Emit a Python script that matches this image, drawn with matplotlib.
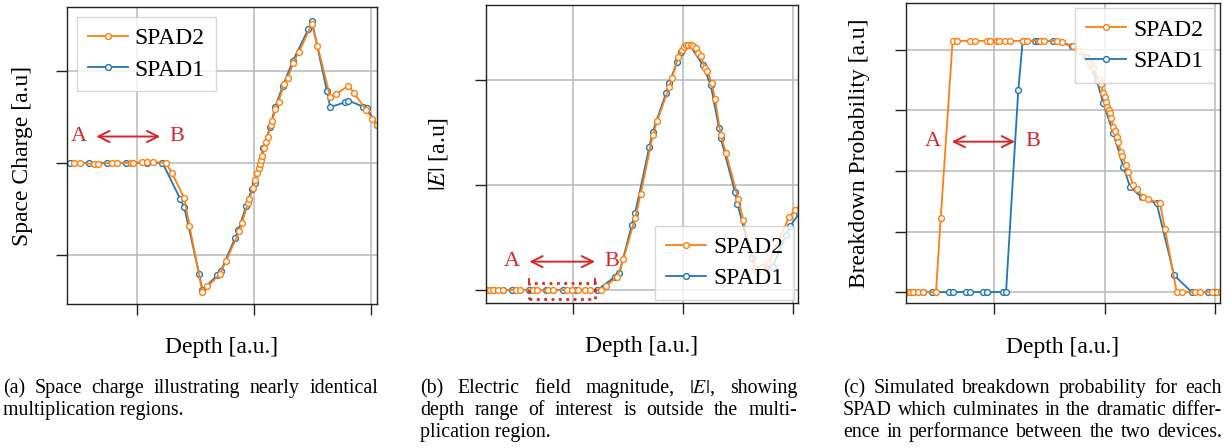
import matplotlib
matplotlib.use("Agg")
import matplotlib.pyplot as plt
from matplotlib.patches import Rectangle

plt.rcParams["font.family"] = ["Liberation Serif", "DejaVu Serif"]
plt.rcParams["mathtext.fontset"] = "stix"

# ---------------- data ----------------
# (a) space charge
sc_x_spad2 = [0.462, 0.513, 0.627, 0.669, 0.784, 0.826, 0.949, 0.963, 1.040, 1.083, 1.134, 1.245,
              1.297, 1.402, 1.447, 1.558, 1.601, 1.709, 1.758, 1.872, 1.895, 1.946, 1.960, 1.989,
              2.011, 2.028, 2.040, 2.051, 2.060, 2.071, 2.088, 2.103, 2.114, 2.145, 2.154, 2.182,
              2.208, 2.256, 2.285, 2.336, 2.385, 2.493, 2.541, 2.650, 2.698, 2.806, 2.855, 2.957,
              3.011, 3.049, 3.100]
sc_y_spad2 = [0.0, 0.0, -0.012, -0.012, 0.0, 0.0, 0.0, 0.0, 0.01, 0.01, 0.01, 0.0,
              -0.112, -0.385, -0.687, -1.414, -1.349, -1.210, -1.076, -0.749, -0.658, -0.440, -0.396, -0.276,
              -0.185, -0.112, -0.058, -0.011, 0.033, 0.076, 0.160, 0.232, 0.287, 0.414, 0.461, 0.586,
              0.668, 0.862, 0.924, 1.094, 1.214, 1.516, 1.279, 0.716, 0.749, 0.840, 0.760, 0.578,
              0.480, 0.414, 0.330]
sc_x_spad1 = [0.427, 0.592, 0.746, 0.906, 1.083, 1.216, 1.368, 1.402, 1.530, 1.558, 1.686, 1.718,
              1.838, 1.866, 1.932, 1.980, 2.003, 2.079, 2.137, 2.179, 2.245, 2.331, 2.464, 2.493,
              2.621, 2.650, 2.778, 2.806, 2.929, 2.963, 3.049, 3.100]
sc_y_spad1 = [0.0, 0.0, 0.0, 0.0, 0.0, 0.0, -0.393, -0.483, -1.214, -1.385, -1.225, -1.175,
              -0.815, -0.731, -0.469, -0.287, -0.215, 0.160, 0.396, 0.607, 0.840, 1.112, 1.461, 1.549,
              0.788, 0.607, 0.662, 0.679, 0.614, 0.597, 0.414, 0.330]

# (b) electric field magnitude
ef_x_spad2 = [0.215, 0.245, 0.275, 0.321, 0.366, 0.482, 0.518, 0.634, 0.675, 0.775, 0.821, 0.948,
              0.988, 1.048, 1.109, 1.155, 1.252, 1.300, 1.403, 1.457, 1.564, 1.615, 1.725, 1.766,
              1.875, 1.897, 1.957, 1.988, 2.009, 2.027, 2.048, 2.068, 2.091, 2.118, 2.139, 2.161,
              2.200, 2.221, 2.261, 2.291, 2.343, 2.391, 2.503, 2.548, 2.655, 2.715, 2.775, 2.966,
              3.018, 3.100]
ef_y_spad2 = [0.0] * 17 + [0.038, 0.127, 0.292, 0.683, 0.914, 1.476, 1.612,
                           1.936, 2.016, 2.216, 2.286, 2.314, 2.330, 2.333, 2.330, 2.320, 2.300, 2.254, 2.229,
                           2.111, 2.086, 1.968, 1.819, 1.476, 1.302, 0.864, 0.667, 0.207, 0.222, 0.254, 0.698,
                           0.762, 0.840]
ef_x_spad1 = [0.215, 0.275, 0.366, 0.443, 0.603, 0.755, 0.912, 1.027, 1.221, 1.382, 1.421, 1.534,
              1.564, 1.694, 1.725, 1.845, 1.875, 1.943, 1.977, 2.018, 2.064, 2.179, 2.252, 2.327,
              2.343, 2.473, 2.494, 2.625, 2.670, 2.745, 2.815, 2.936, 2.973, 3.057]
ef_y_spad1 = [0.0] * 9 + [0.127, 0.159, 0.619,
                          0.730, 1.365, 1.508, 1.873, 1.968, 2.168, 2.267, 2.320, 2.330, 2.143, 1.952, 1.540,
                          1.445, 0.930, 0.819, 0.302, 0.175, 0.213, 0.222, 0.524, 0.610, 0.730]

# (c) breakdown probability
bp_x_spad2 = [0.210, 0.240, 0.270, 0.315, 0.360, 0.475, 0.518, 0.626, 0.668, 0.783, 0.828, 0.939,
              0.964, 1.024, 1.048, 1.100, 1.145, 1.260, 1.301, 1.416, 1.452, 1.567, 1.613, 1.718,
              1.772, 1.869, 1.899, 1.953, 1.966, 1.989, 2.000, 2.014, 2.025, 2.038, 2.050, 2.059,
              2.080, 2.095, 2.110, 2.125, 2.147, 2.161, 2.192, 2.215, 2.261, 2.291, 2.351, 2.396,
              2.502, 2.548, 2.653, 2.704, 2.819, 2.864, 2.970, 3.015, 3.051]
bp_y_spad2 = [0.0] * 6 + [0.244] + [0.830] * 15 + [0.825, 0.814,
              0.798, 0.758, 0.739, 0.699, 0.688, 0.657, 0.645, 0.629, 0.613, 0.600, 0.591, 0.574,
              0.546, 0.533, 0.513, 0.497, 0.464, 0.450, 0.420, 0.398, 0.354, 0.339, 0.315, 0.307,
              0.293, 0.207] + [0.0] * 7
bp_x_spad1 = [0.210, 0.270, 0.360, 0.436, 0.595, 0.626, 0.747, 0.783, 0.903, 0.939, 1.079, 1.109,
              1.220, 1.260, 1.371, 1.401, 1.537, 1.703, 1.833, 1.929, 1.989, 2.080, 2.170, 2.231,
              2.337, 2.472, 2.629, 2.789, 2.939, 3.000]
bp_y_spad1 = [0.0] * 12 + [0.668, 0.830, 0.830, 0.830, 0.830, 0.814, 0.776, 0.701, 0.624, 0.525,
                           0.414, 0.348, 0.313, 0.293, 0.056, 0.0, 0.0, 0.0]

depth_ticks = [1, 2, 3]
series_labels = ["SPAD2", "SPAD1"]

# ---------------- figure ----------------
W, H = 1228, 448
fig = plt.figure(figsize=(W / 100, H / 100), dpi=100)

ORANGE = "#ff7f0e"
BLUE = "#1f77b4"
RED = "#d62728"


def px_axes(left, top, right, bottom):
    return fig.add_axes([left / W, 1 - bottom / H, (right - left) / W, (bottom - top) / H])


def style(ax, xlim, ylim, yticks, ylabel, ylab_x):
    ax.set_xlim(xlim)
    ax.set_ylim(ylim)
    ax.set_xticks(depth_ticks)
    ax.set_yticks(yticks)
    ax.tick_params(labelbottom=False, labelleft=False, direction="out",
                   length=8, width=1.0, color="#222222")
    ax.grid(True, color="#b8b8b8", lw=1.1)
    ax.set_axisbelow(True)
    for s in ax.spines.values():
        s.set_linewidth(1.0)
        s.set_color("#222222")
    ax.set_xlabel("Depth [a.u.]", fontsize=17)
    ax.xaxis.set_label_coords(0.5, -0.112)
    ax.set_ylabel(ylabel, fontsize=17)
    ax.yaxis.set_label_coords(ylab_x, 0.5)


def plot_pair(ax, x2, y2, x1, y1):
    kw = dict(marker="o", ms=4.2, mfc="white", mew=1.0, lw=1.3)
    l1, = ax.plot(x1, y1, color=BLUE, label=series_labels[1], **kw)
    l2, = ax.plot(x2, y2, color=ORANGE, label=series_labels[0], **kw)
    return [l2, l1]


def legend(ax, handles, loc, anchor):
    ax.legend(handles=handles, loc=loc, bbox_to_anchor=anchor, borderaxespad=0,
              fontsize=17, fancybox=False, edgecolor="#cccccc", framealpha=0.8,
              handlelength=1.7, handletextpad=0.3, borderpad=0.45, labelspacing=0.42)


def a_to_b(ax, xa, xb, x0, x1, y):
    ax.text(xa, y, "A", color=RED, fontsize=16, ha="center", va="center")
    ax.text(xb, y, "B", color=RED, fontsize=16, ha="center", va="center")
    ax.annotate("", xy=(x1, y), xytext=(x0, y),
                arrowprops=dict(arrowstyle="<->", color=RED, lw=1.4,
                                shrinkA=0, shrinkB=0, mutation_scale=20))


# (a)
ax_a = px_axes(67, 7, 377, 304)
h = plot_pair(ax_a, sc_x_spad2, sc_y_spad2, sc_x_spad1, sc_y_spad1)
style(ax_a, (0.40, 3.05), (-1.54, 1.70), [-1, 0, 1], "Space Charge [a.u]", -0.110)
legend(ax_a, h, "upper left", (0.032, 0.966))
a_to_b(ax_a, 0.498, 1.339, 0.650, 1.197, 0.287)

# (b)
ax_b = px_axes(485.7, 4.7, 798, 303)
h = plot_pair(ax_b, ef_x_spad2, ef_y_spad2, ef_x_spad1, ef_y_spad1)
style(ax_b, (0.206, 3.045), (-0.124, 2.717), [0, 1, 2], "$|E|$ [a.u]", -0.114)
legend(ax_b, h, "lower right", (0.987, 0.010))
a_to_b(ax_b, 0.448, 1.352, 0.603, 1.200, 0.270)
ax_b.add_patch(Rectangle((0.603, -0.086), 1.200 - 0.603, 0.156, fill=False,
                         ls=":", lw=2.0, ec=RED, zorder=4))
for xs in (0.603, 1.200):
    ax_b.plot([xs, xs], [0.070, 0.145], color=RED, lw=1.4, ls=(0, (2.5, 1.5)), zorder=4)

# (c)
ax_c = px_axes(906, 2.7, 1220, 303)
h = plot_pair(ax_c, bp_x_spad2, bp_y_spad2, bp_x_spad1, bp_y_spad1)
style(ax_c, (0.204, 3.045), (-0.036, 0.956), [0, 0.2, 0.4, 0.6, 0.8],
      "Breakdown Probability [a.u]", -0.115)
legend(ax_c, h, "upper right", (0.981, 0.981))
a_to_b(ax_c, 0.445, 1.350, 0.617, 1.190, 0.497)

# ---------------- captions (justified) ----------------
CAP = 14.3
renderer = fig.canvas.get_renderer()


def caption(lines, x0, x1, y0, dy=22):
    for i, (txt, just) in enumerate(lines):
        y = 1 - (y0 + i * dy) / H
        if not just:
            fig.text(x0 / W, y, txt, fontsize=CAP, ha="left", va="baseline")
            continue
        words = txt.split(" ")
        arts = [fig.text(0, y, w, fontsize=CAP, ha="left", va="baseline") for w in words]
        widths = [a.get_window_extent(renderer).width for a in arts]
        gap = (x1 - x0 - sum(widths)) / (len(words) - 1)
        x = x0
        for a, w in zip(arts, widths):
            a.set_x(x / W)
            x += w + gap


caption([("(a) Space charge illustrating nearly identical", True),
         ("multiplication regions.", False)], 3, 378, 393)
caption([("(b) Electric field magnitude, $|E|$, showing", True),
         ("depth range of interest is outside the multi-", True),
         ("plication region.", False)], 420, 797, 393)
caption([("(c) Simulated breakdown probability for each", True),
         ("SPAD which culminates in the dramatic differ-", True),
         ("ence in performance between the two devices.", True)], 843, 1222, 393)

fig.savefig("out.png", dpi=100)
